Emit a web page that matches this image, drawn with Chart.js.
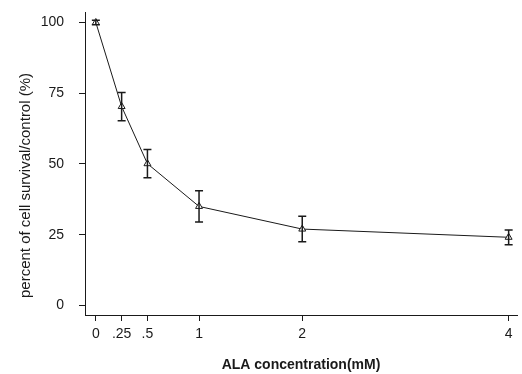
<!DOCTYPE html>
<html>
<head>
<meta charset="utf-8">
<script src="https://cdn.jsdelivr.net/npm/chart.js@4"></script>
<style>
  html, body { margin: 0; padding: 0; background: #fff; }
  #wrap { width: 522px; height: 374px; }
</style>
</head>
<body>
<div id="wrap"><canvas id="c"></canvas></div>
<script>
// ALA concentration (mM) and survival (% of control)
const concentrations = [0, 0.25, 0.5, 1, 2, 4];
const survival = [100, 70.3, 50.1, 35, 27, 24.1];
const errors = [0.8, 5, 5, 5.5, 4.5, 2.6];

const xTicks = [0, 0.25, 0.5, 1, 2, 4];
const xTickLabels = ['0', '.25', '.5', '1', '2', '4'];
const yTicks = [0, 25, 50, 75, 100];

const INK = '#1a1a1a';
const FONT = "'Liberation Sans', Arial, sans-serif";

// vertical error bars with caps, drawn through the chart scales
const errorBars = {
  id: 'errorBars',
  afterDatasetsDraw(chart) {
    const { ctx, scales: { x, y } } = chart;
    ctx.save();
    ctx.strokeStyle = INK;
    ctx.lineWidth = 1.5;
    concentrations.forEach((c, i) => {
      const px = x.getPixelForValue(c);
      const top = y.getPixelForValue(survival[i] + errors[i]);
      const bot = y.getPixelForValue(survival[i] - errors[i]);
      ctx.beginPath();
      ctx.moveTo(px, top); ctx.lineTo(px, bot);
      ctx.moveTo(px - 4, top); ctx.lineTo(px + 4, top);
      ctx.moveTo(px - 4, bot); ctx.lineTo(px + 4, bot);
      ctx.stroke();
    });
    ctx.restore();
  },
};

// y title sits a little below the centre of the axis in the original
const yTitle = {
  id: 'yTitle',
  afterDraw(chart) {
    const { ctx, chartArea } = chart;
    ctx.save();
    ctx.translate(26, (chartArea.top + chartArea.bottom) / 2 + 22);
    ctx.rotate(-Math.PI / 2);
    ctx.font = `15px ${FONT}`;
    ctx.fillStyle = INK;
    ctx.textAlign = 'center';
    ctx.textBaseline = 'middle';
    ctx.fillText('percent of cell survival/control (%)', 0, 0);
    ctx.restore();
  },
};

new Chart(document.getElementById('c'), {
  type: 'scatter',
  data: {
    datasets: [{
      data: concentrations.map((c, i) => ({ x: c, y: survival[i] })),
      showLine: true,
      borderColor: INK,
      borderWidth: 1,
      pointStyle: 'triangle',
      pointRadius: 4,
      pointBorderWidth: 1,
      pointBorderColor: INK,
      pointBackgroundColor: '#fff',
    }],
  },
  options: {
    responsive: true,
    maintainAspectRatio: false,
    animation: false,
    layout: { padding: { top: 12, right: 0, left: 0, bottom: 0 } },
    plugins: { legend: { display: false }, tooltip: { enabled: false } },
    scales: {
      x: {
        type: 'linear',
        min: -0.105,
        max: 4.081,
        afterBuildTicks: s => { s.ticks = xTicks.map(v => ({ value: v })); },
        afterFit: s => { s.height = 59; s.paddingLeft = 0; s.paddingRight = 0; },
        ticks: {
          color: INK,
          font: { family: FONT, size: 14 },
          padding: 5,
          maxRotation: 0,
          autoSkip: false,
          callback: (v) => xTickLabels[xTicks.indexOf(v)],
        },
        grid: { drawOnChartArea: false, drawTicks: true, tickLength: 6, color: INK },
        border: { color: INK, width: 1 },
        title: {
          display: true,
          text: 'ALA concentration(mM)',
          color: INK,
          font: { family: FONT, size: 14, weight: 'bold' },
          padding: { top: 0, bottom: 0 },
        },
      },
      y: {
        min: -3.36,
        max: 103.7,
        afterBuildTicks: s => { s.ticks = yTicks.map(v => ({ value: v })); },
        afterFit: s => { s.width = 85; s.paddingTop = 0; s.paddingBottom = 0; },
        ticks: {
          color: INK,
          font: { family: FONT, size: 14 },
          padding: 15,
        },
        grid: { drawOnChartArea: false, drawTicks: true, tickLength: 6, color: INK },
        border: { color: INK, width: 1 },
      },
    },
  },
  plugins: [errorBars, yTitle],
});
</script>
</body>
</html>
